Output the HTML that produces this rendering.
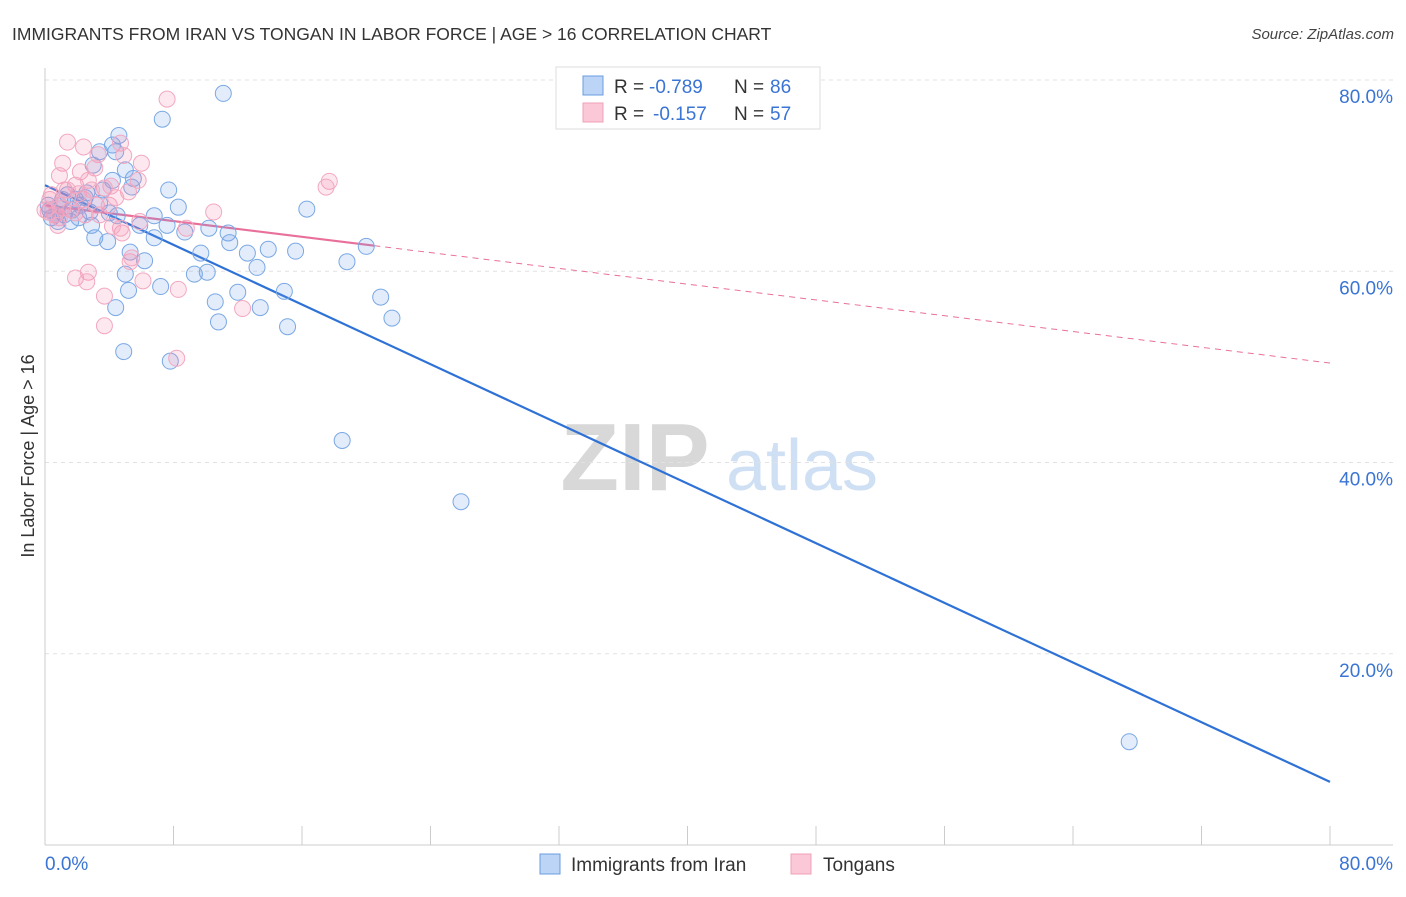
<!DOCTYPE html>
<html><head><meta charset="utf-8"><style>
body{margin:0;background:#fff;font-family:"Liberation Sans",sans-serif}
svg text{font-family:"Liberation Sans",sans-serif}
</style></head><body>
<svg id="chart" width="1406" height="892" viewBox="0 0 1406 892" xmlns="http://www.w3.org/2000/svg">
<text x="12" y="40" font-size="17.5" fill="#333">IMMIGRANTS FROM IRAN VS TONGAN IN LABOR FORCE | AGE &gt; 16 CORRELATION CHART</text>
<text x="1394" y="39" font-size="15" fill="#444" text-anchor="end" font-style="italic">Source: ZipAtlas.com</text>
<g>
<text x="635" y="490" font-size="96" fill="#d8d8d8" text-anchor="middle" font-family="Liberation Serif" font-weight="bold">ZIP</text>
<text x="802" y="490" font-size="72" fill="#cfe0f4" text-anchor="middle">atlas</text>
</g>
<g id="grid"></g>
<g id="axes"></g>
<g id="trends"></g>
<g id="points"></g>
<text transform="translate(34,456) rotate(-90)" font-size="18" fill="#333" text-anchor="middle">In Labor Force | Age &gt; 16</text>
<g>
<rect x="556" y="67" width="264" height="62" fill="#fff" stroke="#ddd"/>
<rect x="583" y="76" width="20" height="19" fill="#bcd4f6" stroke="#6a9de0"/>
<rect x="583" y="103" width="20" height="19" fill="#fbc8d8" stroke="#f0a0b8"/>
<text x="614" y="93" font-size="19" fill="#333">R =</text>
<text x="649" y="93" font-size="19" fill="#3a74d4">-0.789</text>
<text x="734" y="93" font-size="19" fill="#333">N =</text>
<text x="770" y="93" font-size="19" fill="#3a74d4">86</text>
<text x="614" y="120" font-size="19" fill="#333">R =</text>
<text x="653" y="120" font-size="19" fill="#3a74d4">-0.157</text>
<text x="734" y="120" font-size="19" fill="#333">N =</text>
<text x="770" y="120" font-size="19" fill="#3a74d4">57</text>
</g>
<g>
<rect x="540" y="854" width="20" height="20" fill="#bcd4f6" stroke="#6a9de0"/>
<text x="571" y="871" font-size="19" fill="#333">Immigrants from Iran</text>
<rect x="791" y="854" width="20" height="20" fill="#fbc8d8" stroke="#f0a0b8"/>
<text x="823" y="871" font-size="19" fill="#333">Tongans</text>
</g>
</svg>
<script>
const yTicks=[20,40,60,80];
const yTickLabels=["20.0%","40.0%","60.0%","80.0%"];
const xTicks=[0,8,16,24,32,40,48,56,64,72,80];
const blueX=[11.1,7.3,4.6,4.2,3.4,4.4,5.0,3.0,4.2,5.5,5.4,7.7,3.6,2.6,1.9,0.9,0.3,1.2,2.2,2.8,4.0,4.5,6.8,8.3,16.3,1.6,7.6,10.2,11.4,8.7,3.1,3.9,6.8,11.5,13.9,15.6,12.6,9.7,13.2,18.8,20.0,5.3,6.2,5.0,9.3,10.1,7.2,5.2,12.0,14.9,20.9,10.6,13.4,4.4,21.6,10.8,15.1,4.9,7.8,18.5,25.9,67.5,0.6,0.2,1.1,1.7,2.5,3.4,0.8,1.4,0.4,2.1,2.9,5.9];
const blueY=[78.6,75.9,74.2,73.2,72.5,72.5,70.6,71.1,69.5,69.7,68.8,68.5,68.5,68.2,67.5,66.9,66.4,65.9,66.9,66.2,66.1,65.8,65.8,66.7,66.5,65.2,64.8,64.5,64.0,64.1,63.5,63.1,63.5,63.0,62.3,62.1,61.9,61.9,60.4,61.0,62.6,62.0,61.1,59.7,59.7,59.9,58.4,58.0,57.8,57.9,57.3,56.8,56.2,56.2,55.1,54.7,54.2,51.6,50.6,42.3,35.9,10.8,65.9,66.9,67.5,66.4,67.7,67.1,65.2,68.0,65.6,65.6,64.8,64.8];
const pinkX=[7.6,1.4,2.4,4.7,3.3,1.1,6.0,2.2,4.9,3.1,4.1,5.2,0.9,1.9,2.7,3.7,5.8,1.2,17.7,17.5,0.3,0.9,1.6,0.6,2.4,3.2,4.0,10.5,5.9,4.8,8.8,0.2,0.9,1.9,2.7,1.9,2.6,6.1,5.3,8.3,3.7,12.3,3.7,8.2,1.1,0.4,2.1,2.9,4.4,4.7,1.4,0.8,0.0,3.4,5.4,2.5,4.2];
const pinkY=[78.0,73.5,73.0,73.4,72.2,71.3,71.3,70.4,72.1,70.8,68.9,68.3,70.0,69.0,69.5,68.7,69.5,68.5,69.4,68.8,67.5,66.9,66.4,65.9,67.5,66.9,66.9,66.2,65.2,64.0,64.5,66.2,65.6,66.1,59.9,59.3,58.9,59.0,61.0,58.1,57.4,56.1,54.3,50.9,66.6,68.0,68.1,68.5,67.7,64.5,68.5,64.8,66.4,65.9,61.4,65.9,64.7];
const blueTrend=[69.0,6.6];
const pinkTrend=[66.9,50.4];
const pinkSolidEnd=20.5;

const NS="http://www.w3.org/2000/svg";
const X=v=>45+v*(1285/80);
const Y=v=>845-v*9.5625;
function mk(tag,attrs,parent){const e=document.createElementNS(NS,tag);for(const k in attrs)e.setAttribute(k,attrs[k]);document.getElementById(parent).appendChild(e);return e;}
yTicks.forEach((t,i)=>{
  const l=mk('line',{x1:45,x2:1393,y1:Y(t),y2:Y(t),stroke:'#e2e2e2','stroke-dasharray':'4,4'},'grid');
  
  
  const tx=mk('text',{x:1393,y:Y(t)+23,'font-size':19,fill:'#3a74d4','text-anchor':'end'},'grid');
  tx.textContent=yTickLabels[i];
  
  
});
let a=mk('line',{x1:45,x2:45,y1:68,y2:845,stroke:'#ccc'},'axes');


a=mk('line',{x1:45,x2:1393,y1:845,y2:845,stroke:'#ccc'},'axes');


xTicks.forEach(t=>{
  const l=mk('line',{x1:X(t),x2:X(t),y1:826,y2:845,stroke:'#ccc'},'axes');
  
  
});
let t0=mk('text',{x:45,y:870,'font-size':19,fill:'#3a74d4'},'axes');t0.textContent='0.0%';


let t1=mk('text',{x:1393,y:870,'font-size':19,fill:'#3a74d4','text-anchor':'end'},'axes');t1.textContent='80.0%';



function pts(xs,ys,fill,stroke,name){xs.forEach((x,i)=>{
  const c=mk('circle',{cx:X(x),cy:Y(ys[i]),r:8,fill:fill,stroke:stroke,'stroke-width':1},'points');
  
  
});}
pts(blueX,blueY,'rgba(110,160,235,0.2)','#7aa8e4','iran-point');
pts(pinkX,pinkY,'rgba(245,140,175,0.2)','#f2a8c0','tongan-point');

let tl=mk('line',{x1:X(0),y1:Y(blueTrend[0]),x2:X(80),y2:Y(blueTrend[1]),stroke:'#2f72d6','stroke-width':2.2},'trends');


const py=v=>pinkTrend[0]+(pinkTrend[1]-pinkTrend[0])*v/80;
tl=mk('line',{x1:X(0),y1:Y(py(0)),x2:X(pinkSolidEnd),y2:Y(py(pinkSolidEnd)),stroke:'#e8709a','stroke-width':2.2},'trends');


tl=mk('line',{x1:X(pinkSolidEnd),y1:Y(py(pinkSolidEnd)),x2:X(80),y2:Y(py(80)),stroke:'#e8709a','stroke-width':1,'stroke-dasharray':'6,5'},'trends');


</script>
</body></html>
